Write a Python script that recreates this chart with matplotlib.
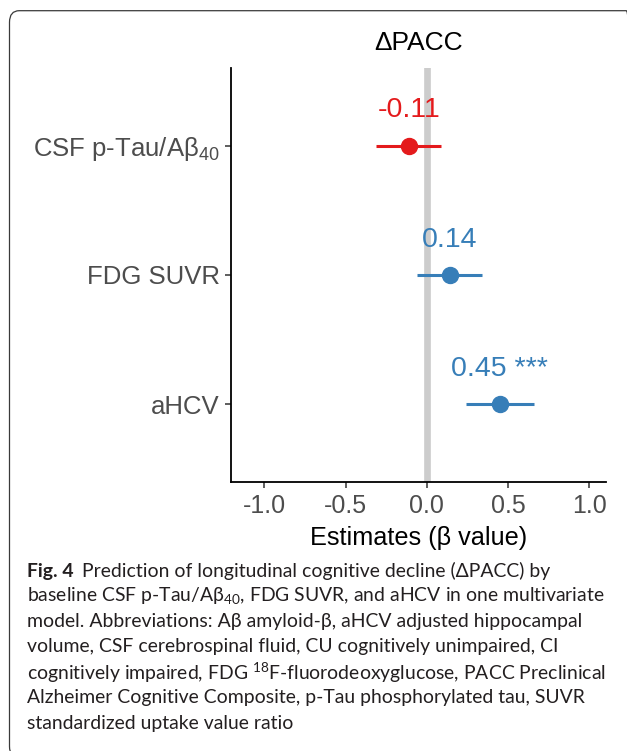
import numpy as np
import matplotlib
matplotlib.use("Agg")
import matplotlib.pyplot as plt
from matplotlib.patches import FancyBboxPatch

# data
predictors = ["CSF p-Tau/A\u03b2$_\\mathregular{40}$", "FDG SUVR", "aHCV"]
estimates = [-0.11, 0.14, 0.45]
ci_low = [-0.31, -0.06, 0.24]
ci_high = [0.09, 0.34, 0.66]
est_labels = ["-0.11", "0.14", "0.45 ***"]
colors = ["#E41A1C", "#377EB8", "#377EB8"]
xticks = [-1.0, -0.5, 0.0, 0.5, 1.0]

caption = [
    "baseline CSF p-Tau/A\u03b2$_\\mathregular{40}$, FDG SUVR, and aHCV in one multivariate",
    "model. Abbreviations: A\u03b2 amyloid-\u03b2, aHCV adjusted hippocampal",
    "volume, CSF cerebrospinal fluid, CU cognitively unimpaired, CI",
    "cognitively impaired, FDG $^\\mathregular{18}$F-fluorodeoxyglucose, PACC Preclinical",
    "Alzheimer Cognitive Composite, p-Tau phosphorylated tau, SUVR",
    "standardized uptake value ratio",
]
cap_first = "Prediction of longitudinal cognitive decline (\u0394PACC) by"

plt.rcParams['font.family'] = ['Liberation Sans', 'DejaVu Sans']

W, H = 627, 751
fig = plt.figure(figsize=(W / 100, H / 100), dpi=100)
ax = fig.add_axes([231 / W, 1 - 481.7 / H, (606 - 231) / W, (481.7 - 68) / H])

ypos = np.arange(1, len(predictors) + 1)
ax.axvline(0, color="#CCCCCC", lw=4.8, zorder=0)
for y, e, lo, hi, c, lab in zip(ypos, estimates, ci_low, ci_high, colors, est_labels):
    ax.plot([lo, hi], [y, y], color=c, lw=2.2, solid_capstyle="butt", zorder=2)
    ax.plot(e, y, "o", color=c, ms=11.5, mec=c, zorder=3)
    ax.annotate(lab, (e, y), xytext=(0, 20.4), textcoords="offset points",
                ha="center", va="baseline", fontsize=20.5, color=c)

ax.set_xlim(-1.205, 1.103)
ax.set_ylim(3.6, 0.4)
ax.set_yticks(ypos)
ax.set_yticklabels(predictors)
ax.set_xticks(xticks)
ax.set_xticklabels([f"{t:.1f}" for t in xticks])
ax.tick_params(axis="both", labelsize=18, labelcolor="#4D4D4D", color="#333333",
               length=4, width=1.1)
ax.tick_params(axis="y", labelsize=18.5)
ax.tick_params(axis="x", pad=4.5)
ax.tick_params(axis="y", pad=4)
for s in ["top", "right"]:
    ax.spines[s].set_visible(False)
for s in ["left", "bottom"]:
    ax.spines[s].set_linewidth(1.3)
ax.set_xlabel("Estimates (\u03b2 value)", fontsize=18.2, color="black", labelpad=6)
ax.set_title("\u0394PACC", fontsize=19, pad=13)

# rounded frame around the figure panel (runs past right and bottom edges)
frame = FancyBboxPatch((9.5 / W, 1 - 758 / H), (636 - 9.5) / W, (758 - 10.7) / H,
                       boxstyle="round,pad=0,rounding_size=0.0155",
                       transform=fig.transFigure, fill=False,
                       ec="#3A3A3A", lw=0.9, clip_on=False)
fig.patches.append(frame)

# caption; font size fitted so the second line spans the same width as in the figure
cap_font = ['Lato', 'DejaVu Sans']
cx = 27 / W
fig.canvas.draw()
r = fig.canvas.get_renderer()
probe = fig.text(0, 0, caption[0], fontsize=10, family=cap_font)
fs = 10 * 579 / probe.get_window_extent(r).width
probe.remove()

t0 = fig.text(cx, 1 - 571 / H, "Fig. 4", fontsize=fs, fontweight="bold",
              family=cap_font, color="#231F20", va="center")
bb = t0.get_window_extent(r)
fig.text((bb.x1 + 8) / W, 1 - 571 / H, cap_first, fontsize=fs, family=cap_font,
         color="#231F20", va="center")
for i, line in enumerate(caption):
    fig.text(cx, 1 - (596 + 25.4 * i) / H, line, fontsize=fs, family=cap_font,
             color="#231F20", va="center")

fig.savefig("out.png", dpi=100)
